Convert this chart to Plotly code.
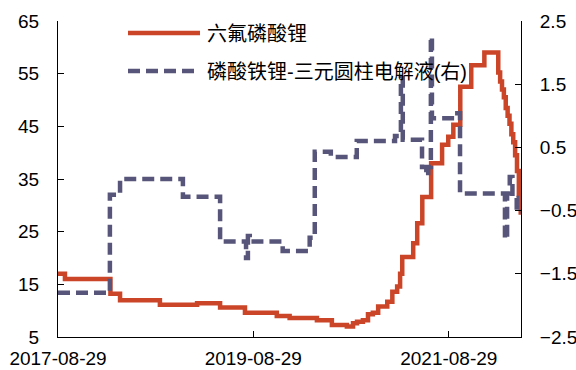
import plotly.graph_objects as go

# 六氟磷酸锂 price steps (left axis)
lipf6_dates = [
    "2017-08-29", "2017-09-24", "2018-03-13", "2018-04-18", "2018-09-14",
    "2019-01-31", "2019-04-27", "2019-07-29", "2019-11-25", "2020-01-12",
    "2020-04-23", "2020-06-18", "2020-08-13", "2020-09-05", "2020-09-20",
    "2020-10-12", "2020-10-31", "2020-11-18", "2020-12-08", "2021-01-11",
    "2021-01-30", "2021-02-17", "2021-02-28", "2021-03-08", "2021-04-18",
    "2021-05-03", "2021-05-22", "2021-06-24", "2021-08-04", "2021-08-27",
    "2021-09-15", "2021-10-11", "2021-11-21", "2022-01-09", "2022-03-02",
    "2022-03-09", "2022-03-16", "2022-03-23", "2022-03-30", "2022-04-06",
    "2022-04-13", "2022-04-20", "2022-04-27", "2022-05-04", "2022-05-11",
    "2022-05-18", "2022-05-25",
]
lipf6_values = [
    17.0, 16.0, 13.2, 12.0, 11.1,
    11.4, 10.6, 9.6, 9.0, 8.6,
    8.2, 7.3, 7.0, 7.6, 7.9,
    8.2, 9.3, 9.6, 10.8, 11.7,
    13.6, 14.6, 17.0, 20.2, 22.8,
    26.6, 31.6, 38.0, 41.5, 43.0,
    45.3, 52.5, 56.6, 59.0, 55.2,
    53.5, 52.0, 50.5, 48.5, 47.0,
    45.5, 43.5, 42.0, 39.5, 36.5,
    32.0, 28.2,
]

# 磷酸铁锂-三元圆柱电解液 spread (right axis)
spread_dates = [
    "2017-08-29", "2018-03-11", "2018-04-18", "2018-12-09", "2019-04-27",
    "2019-08-02", "2019-08-09", "2019-08-16", "2019-12-17", "2020-03-27",
    "2020-04-15", "2020-06-14", "2020-09-19", "2021-02-09", "2021-03-03",
    "2021-03-10", "2021-05-21", "2021-06-06", "2021-06-13", "2021-06-23",
    "2021-06-27", "2021-09-21", "2021-10-10", "2022-03-27", "2022-04-04",
    "2022-04-14", "2022-04-24", "2022-05-10", "2022-05-26",
]
spread_values = [
    -1.80, -0.25, 0.00, -0.28, -0.99,
    -1.25, -0.90, -0.99, -1.14, -0.93,
    0.43, 0.35, 0.60, 0.68, 1.60,
    0.62, 0.19, 0.05, 0.19, 2.25,
    0.96, 1.04, -0.23, -0.95, -0.23,
    0.03, -0.30, -0.52, -0.52,
]

tick_dates = ["2017-08-29", "2019-08-29", "2021-08-29"]
left_ticks = [5, 15, 25, 35, 45, 55, 65]
right_ticks = [-2.5, -1.5, -0.5, 0.5, 1.5, 2.5]

names = ["六氟磷酸锂", "磷酸铁锂-三元圆柱电解液(右)"]
red = "#CB4528"
slate = "#57557A"
dash = "12px,6px"
font = "Arial, 'Liberation Sans', 'Noto Sans CJK SC', sans-serif"

fig = go.Figure()
fig.add_trace(go.Scatter(
    x=spread_dates, y=spread_values, name=names[1], yaxis="y2",
    mode="lines", line=dict(color=slate, width=4.5, dash=dash, shape="hv"),
))
fig.add_trace(go.Scatter(
    x=lipf6_dates, y=lipf6_values, name=names[0],
    mode="lines", line=dict(color=red, width=4.5, shape="hv"),
))

W, H = 576, 370
L, R, T, B = 58, 55, 21, 33
pw, ph = W - L - R, H - T - B


def px(xp):
    return (xp - L) / pw


def py(yp):
    return (H - B - yp) / ph


# legend drawn as line samples with labels
legend_rows = [(33, red, "solid"), (71, slate, dash)]
for (yrow, col, d), label in zip(legend_rows, names):
    fig.add_shape(type="line", xref="paper", yref="paper",
                  x0=px(128), x1=px(200), y0=py(yrow), y1=py(yrow),
                  line=dict(color=col, width=4.5, dash=d), layer="above")
    fig.add_annotation(xref="paper", yref="paper", x=px(205), y=py(yrow + 1),
                       text=label, showarrow=False, xanchor="left", yanchor="middle",
                       font=dict(size=20, color="#000000", family=font))

axis_common = dict(showline=True, linecolor="#000000", linewidth=1,
                   ticks="inside", ticklen=6, tickcolor="#000000",
                   showgrid=False, zeroline=False, automargin=False,
                   tickfont=dict(size=19, color="#000000", family=font))

fig.update_layout(
    width=W, height=H,
    margin=dict(l=L, r=R, t=T, b=B, pad=0),
    paper_bgcolor="#FFFFFF", plot_bgcolor="#FFFFFF",
    showlegend=False,
    xaxis=dict(type="date", range=["2017-08-29", "2022-05-26"],
               tickvals=tick_dates, ticktext=tick_dates,
               ticklabelstandoff=4, **axis_common),
    yaxis=dict(range=[5, 65], tickvals=left_ticks, ticklabelstandoff=14,
               **axis_common),
    yaxis2=dict(range=[-2.5, 2.5], tickvals=right_ticks, overlaying="y",
                side="right", ticklabelstandoff=14, **axis_common),
)

fig.write_html("out.html")
